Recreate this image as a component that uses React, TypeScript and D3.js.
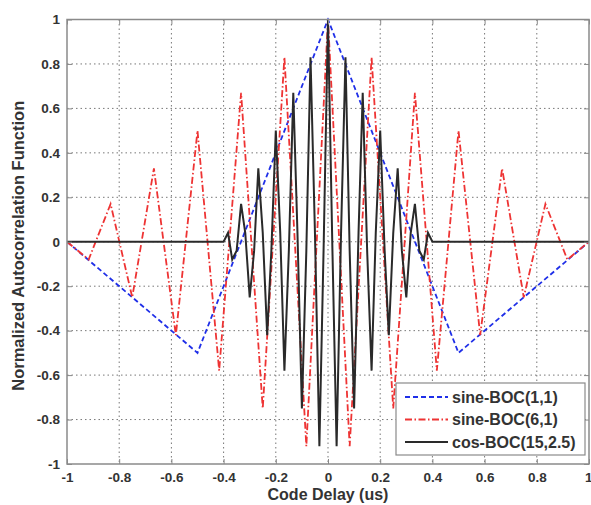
import React, { useRef, useEffect } from "react";
import * as d3 from "d3";

// sine-BOC(1,1)
const sineBoc11Delay = [-1, -0.5, 0, 0.5, 1];
const sineBoc11Value = [0, -0.5, 1, -0.5, 0];

// sine-BOC(6,1)
const sineBoc61Delay = [
  -1, -0.917, -0.833, -0.75, -0.667, -0.583, -0.5, -0.417, -0.333, -0.25, -0.167, -0.083, 0,
  0.083, 0.167, 0.25, 0.333, 0.417, 0.5, 0.583, 0.667, 0.75, 0.833, 0.917, 1,
];
const sineBoc61Value = [
  0, -0.08, 0.17, -0.25, 0.33, -0.42, 0.5, -0.58, 0.67, -0.75, 0.83, -0.92, 1,
  -0.92, 0.83, -0.75, 0.67, -0.58, 0.5, -0.42, 0.33, -0.25, 0.17, -0.08, 0,
];

// cos-BOC(15,2.5)
const cosBoc152Delay = [
  -1,
  -0.4, -0.383, -0.367, -0.35, -0.333, -0.317, -0.3, -0.283, -0.267, -0.25, -0.233, -0.217,
  -0.2, -0.183, -0.167, -0.15, -0.133, -0.117, -0.1, -0.083, -0.067, -0.05, -0.033, -0.017, 0,
  0.017, 0.033, 0.05, 0.067, 0.083, 0.1, 0.117, 0.133, 0.15, 0.167, 0.183, 0.2,
  0.217, 0.233, 0.25, 0.267, 0.283, 0.3, 0.317, 0.333, 0.35, 0.367, 0.383, 0.4,
  1,
];
const cosBoc152Value = [
  0,
  0, 0.04, -0.08, -0.04, 0.17, 0.04, -0.25, -0.04, 0.33, 0.04, -0.42, -0.04,
  0.5, 0.04, -0.58, -0.04, 0.67, 0.04, -0.75, -0.04, 0.83, 0.04, -0.92, -0.04, 1,
  -0.04, -0.92, 0.04, 0.83, -0.04, -0.75, 0.04, 0.67, -0.04, -0.58, 0.04, 0.5,
  -0.04, -0.42, 0.04, 0.33, -0.04, -0.25, 0.04, 0.17, -0.04, -0.08, 0.04, 0,
  0,
];

const xTicks = [-1, -0.8, -0.6, -0.4, -0.2, 0, 0.2, 0.4, 0.6, 0.8, 1];
const yTicks = [-1, -0.8, -0.6, -0.4, -0.2, 0, 0.2, 0.4, 0.6, 0.8, 1];

const seriesNames = ["sine-BOC(1,1)", "sine-BOC(6,1)", "cos-BOC(15,2.5)"];

const W = 591;
const H = 505;
const margin = { top: 19.5, right: 2, bottom: 41, left: 67 };
const FONT = "Liberation Sans, Arial, sans-serif";

const series = [
  { name: seriesNames[0], xs: sineBoc11Delay, ys: sineBoc11Value, color: "#1f2fe8", dash: "5,3", width: 1.8 },
  { name: seriesNames[1], xs: sineBoc61Delay, ys: sineBoc61Value, color: "#ee3333", dash: "7,2.5,1.5,2.5", width: 1.8 },
  { name: seriesNames[2], xs: cosBoc152Delay, ys: cosBoc152Value, color: "#2a2a2a", dash: null, width: 2 },
];

const fmt = (d: number) => String(+d.toFixed(1));

export default function App() {
  const svgRef = useRef<SVGSVGElement>(null);

  useEffect(() => {
    const svg = d3.select(svgRef.current);
    svg.selectAll("*").remove();

    const pw = W - margin.left - margin.right;
    const ph = H - margin.top - margin.bottom;

    const x = d3.scaleLinear().domain([-1, 1]).range([margin.left, margin.left + pw]);
    const y = d3.scaleLinear().domain([-1, 1]).range([margin.top + ph, margin.top]);

    svg.append("rect")
      .attr("x", margin.left).attr("y", margin.top)
      .attr("width", pw).attr("height", ph)
      .attr("fill", "white");

    // Grid
    const grid = svg.append("g").attr("stroke", "#777").attr("stroke-width", 1)
      .attr("stroke-dasharray", "1.5,3");
    xTicks.slice(1, -1).forEach((t) => {
      grid.append("line")
        .attr("x1", x(t)).attr("x2", x(t))
        .attr("y1", margin.top).attr("y2", margin.top + ph);
    });
    yTicks.slice(1, -1).forEach((t) => {
      grid.append("line")
        .attr("x1", margin.left).attr("x2", margin.left + pw)
        .attr("y1", y(t)).attr("y2", y(t));
    });

    // Curves
    const clip = svg.append("defs").append("clipPath").attr("id", "plot-clip");
    clip.append("rect").attr("x", margin.left).attr("y", margin.top - 2)
      .attr("width", pw).attr("height", ph + 4);

    const line = d3.line<[number, number]>().x((d) => x(d[0])).y((d) => y(d[1]));
    const curves = svg.append("g").attr("clip-path", "url(#plot-clip)");
    series.forEach((s) => {
      const pts = s.xs.map((v, i) => [v, s.ys[i]] as [number, number]);
      curves.append("path")
        .attr("d", line(pts))
        .attr("fill", "none")
        .attr("stroke", s.color)
        .attr("stroke-width", s.width)
        .attr("stroke-linejoin", "miter")
        .attr("stroke-dasharray", s.dash);
    });

    // Axes
    const styleAxis = (g: any) => {
      g.select(".domain").remove();
      g.selectAll("line").attr("stroke", "#888");
      g.selectAll("text")
        .attr("font-family", FONT)
        .attr("font-size", 13.5)
        .attr("font-weight", "bold")
        .attr("fill", "#333");
    };

    const bottom = svg.append("g")
      .attr("transform", `translate(0,${margin.top + ph})`)
      .call(d3.axisBottom(x).tickValues(xTicks).tickFormat(fmt as any).tickSize(-5).tickPadding(8))
      .call(styleAxis);
    // keep the last label inside the window
    bottom.selectAll("text").filter((d: any) => d === 1).attr("text-anchor", "end").attr("dx", 3);

    svg.append("g")
      .attr("transform", `translate(0,${margin.top})`)
      .call(d3.axisTop(x).tickValues(xTicks).tickFormat(() => "").tickSize(-5))
      .call(styleAxis);
    svg.append("g")
      .attr("transform", `translate(${margin.left},0)`)
      .call(d3.axisLeft(y).tickValues(yTicks).tickFormat(fmt as any).tickSize(-5).tickPadding(7))
      .call(styleAxis);
    svg.append("g")
      .attr("transform", `translate(${margin.left + pw},0)`)
      .call(d3.axisRight(y).tickValues(yTicks).tickFormat(() => "").tickSize(-5))
      .call(styleAxis);

    // Frame
    svg.append("rect")
      .attr("x", margin.left).attr("y", margin.top)
      .attr("width", pw).attr("height", ph)
      .attr("fill", "none").attr("stroke", "#8a8a8a").attr("stroke-width", 1.5);

    // Axis titles
    svg.append("text")
      .attr("x", x(0)).attr("y", H - 5)
      .attr("text-anchor", "middle")
      .attr("font-family", FONT)
      .attr("font-size", 16).attr("font-weight", "bold").attr("fill", "#333")
      .text("Code Delay (us)");
    svg.append("text")
      .attr("transform", `translate(24,${y(0) + 4}) rotate(-90)`)
      .attr("text-anchor", "middle")
      .attr("font-family", FONT)
      .attr("font-size", 16.5).attr("font-weight", "bold").attr("fill", "#333")
      .text("Normalized Autocorrelation Function");

    // Legend
    const lg = svg.append("g").attr("transform", "translate(396,383)");
    lg.append("rect").attr("width", 189).attr("height", 72)
      .attr("fill", "white").attr("stroke", "#8a8a8a").attr("stroke-width", 1.2);
    series.forEach((s, i) => {
      const cy = 14 + i * 22.5;
      lg.append("line")
        .attr("x1", 9).attr("x2", 52).attr("y1", cy).attr("y2", cy)
        .attr("stroke", s.color).attr("stroke-width", s.width)
        .attr("stroke-dasharray", s.dash);
      lg.append("text")
        .attr("x", 56).attr("y", cy).attr("dy", "0.35em")
        .attr("font-family", FONT)
        .attr("font-size", 16).attr("font-weight", "bold").attr("fill", "#333")
        .text(s.name);
    });
  }, []);

  return (
    <svg
      ref={svgRef}
      width={W}
      height={H}
      style={{ position: "absolute", left: 0, top: 0, background: "white" }}
    />
  );
}
